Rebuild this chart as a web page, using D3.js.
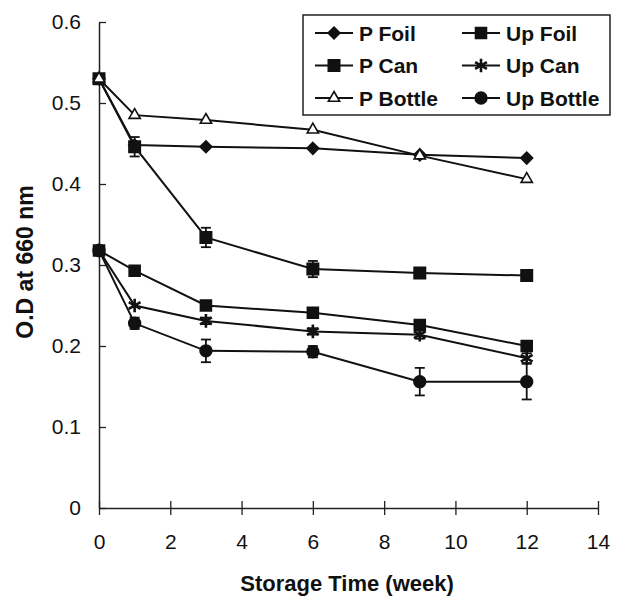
<!DOCTYPE html>
<html>
<head>
<meta charset="utf-8">
<script src="https://cdn.jsdelivr.net/npm/d3@7"></script>
<style>
  html, body { margin: 0; padding: 0; background: #fff; }
  text { font-family: 'Liberation Sans', Arial, sans-serif; fill: #111; }
</style>
</head>
<body>
<svg id="chart"></svg>
<script>
'use strict';

const weeks = [0, 1, 3, 6, 9, 12];
const seriesNames = ['P Foil', 'Up Foil', 'P Can', 'Up Can', 'P Bottle', 'Up Bottle'];
const pFoil    = [0.530, 0.448, 0.446, 0.444, 0.436, 0.432];
const upFoil   = [0.318, 0.293, 0.250, 0.241, 0.226, 0.200];
const pCan     = [0.530, 0.446, 0.334, 0.295, 0.290, 0.287];
const upCan    = [0.318, 0.250, 0.231, 0.218, 0.214, 0.185];
const pBottle  = [0.530, 0.485, 0.479, 0.467, 0.435, 0.406];
const upBottle = [0.318, 0.228, 0.194, 0.193, 0.156, 0.156];
// standard errors (0 = no visible bar)
const pCanErr      = [0, 0.012, 0.012, 0.010, 0, 0];
const upFoilErr    = [0, 0.004, 0.004, 0.004, 0.005, 0.004];
const upCanErr     = [0, 0, 0.004, 0.004, 0.005, 0.006];
const upBottleErr  = [0, 0.007, 0.014, 0.007, 0.017, 0.022];
const noErr        = [0, 0, 0, 0, 0, 0];
const xTicks = [0, 2, 4, 6, 8, 10, 12, 14];
const yTicks = [0, 0.1, 0.2, 0.3, 0.4, 0.5, 0.6];

const W = 618, H = 602;
const margin = { top: 22, left: 99, right: 20, bottom: 94 };
const width = 598 - margin.left;
const height = 508 - margin.top;

const svg = d3.select('#chart')
    .attr('width', W)
    .attr('height', H);

const graph = svg.append('g')
    .attr('transform', `translate(${margin.left}, ${margin.top})`);

const x = d3.scaleLinear().domain([0, 14]).range([0, width]);
const y = d3.scaleLinear().domain([0, 0.6]).range([height, 0]);

// axes
const xAxis = d3.axisBottom(x)
    .tickValues(xTicks)
    .tickSizeInner(7)
    .tickSizeOuter(0)
    .tickPadding(19)
    .tickFormat(d3.format('d'));

const yAxis = d3.axisLeft(y)
    .tickValues(yTicks)
    .tickSizeInner(-7)
    .tickSizeOuter(0)
    .tickPadding(18)
    .tickFormat(d => d === 0 ? '0' : d3.format('.1f')(d));

const gx = graph.append('g')
    .attr('class', 'x-axis')
    .attr('transform', `translate(0, ${height})`)
    .call(xAxis);

gx.selectAll('.tick line').attr('y1', -7);

graph.append('g')
    .attr('class', 'y-axis')
    .call(yAxis);

graph.selectAll('.domain')
    .attr('stroke', '#222')
    .attr('stroke-width', 1.5);

graph.selectAll('.tick line')
    .attr('stroke', '#222')
    .attr('stroke-width', 1.3);

graph.selectAll('.tick text')
    .style('font-size', '21px')
    .attr('fill', '#111');

// axis titles
svg.append('text')
    .attr('x', 347)
    .attr('y', 591)
    .attr('text-anchor', 'middle')
    .style('font-size', '22px')
    .style('font-weight', 'bold')
    .text('Storage Time (week)');

svg.append('text')
    .attr('transform', 'translate(33, 262) rotate(-90)')
    .attr('text-anchor', 'middle')
    .style('font-size', '23px')
    .style('font-weight', 'bold')
    .text('O.D at 660 nm');

// square rotated 45deg, as in the original plot
const rhombus = {
  draw(ctx, size) {
    const r = Math.sqrt(size / 2);
    ctx.moveTo(0, -r);
    ctx.lineTo(r, 0);
    ctx.lineTo(0, r);
    ctx.lineTo(-r, 0);
    ctx.closePath();
  }
};

// series definitions
const symbols = {
  'P Foil':    { type: rhombus, size: 70, fill: '#111' },
  'Up Foil':   { type: d3.symbolSquare, size: 120, fill: '#111' },
  'P Can':     { type: d3.symbolSquare, size: 130, fill: '#111' },
  'Up Can':    { type: d3.symbolAsterisk, size: 130, fill: 'none' },
  'P Bottle':  { type: d3.symbolTriangle, size: 55, fill: '#fff' },
  'Up Bottle': { type: d3.symbolCircle, size: 110, fill: '#111' }
};

const series = [
  { name: 'P Foil', values: pFoil, err: noErr },
  { name: 'Up Foil', values: upFoil, err: upFoilErr },
  { name: 'P Can', values: pCan, err: pCanErr },
  { name: 'Up Can', values: upCan, err: upCanErr },
  { name: 'P Bottle', values: pBottle, err: noErr },
  { name: 'Up Bottle', values: upBottle, err: upBottleErr }
];

const line = d3.line()
    .x(d => x(d.week))
    .y(d => y(d.value));

function drawSymbol(sel, name) {
  const s = symbols[name];
  sel.attr('d', d3.symbol().type(s.type).size(s.size))
      .attr('fill', s.fill)
      .attr('stroke', '#111')
      .attr('stroke-width', name === 'Up Can' ? 2.6 : 1.6);
}

series.forEach(s => {
  const pts = weeks.map((w, i) => ({ week: w, value: s.values[i], err: s.err[i] }));

  graph.append('path')
      .datum(pts)
      .attr('fill', 'none')
      .attr('stroke', '#111')
      .attr('stroke-width', 2)
      .attr('d', line);

  // error bars
  const eb = graph.append('g')
      .selectAll('g')
      .data(pts.filter(d => d.err > 0))
    .enter().append('g')
      .attr('stroke', '#111')
      .attr('stroke-width', 1.8);

  eb.append('line')
      .attr('x1', d => x(d.week)).attr('x2', d => x(d.week))
      .attr('y1', d => y(d.value - d.err)).attr('y2', d => y(d.value + d.err));
  eb.append('line')
      .attr('x1', d => x(d.week) - 5).attr('x2', d => x(d.week) + 5)
      .attr('y1', d => y(d.value - d.err)).attr('y2', d => y(d.value - d.err));
  eb.append('line')
      .attr('x1', d => x(d.week) - 5).attr('x2', d => x(d.week) + 5)
      .attr('y1', d => y(d.value + d.err)).attr('y2', d => y(d.value + d.err));

  graph.append('g')
      .selectAll('path')
      .data(pts)
    .enter().append('path')
      .attr('transform', d => `translate(${x(d.week)}, ${y(d.value)})`)
      .call(drawSymbol, s.name);
});

// legend
const legend = svg.append('g')
    .attr('transform', 'translate(303, 15)');

legend.append('rect')
    .attr('width', 307)
    .attr('height', 100)
    .attr('fill', '#fff')
    .attr('stroke', '#222')
    .attr('stroke-width', 1.5);

const items = legend.selectAll('g.item')
    .data(seriesNames)
  .enter().append('g')
    .attr('class', 'item')
    .attr('transform', (d, i) => `translate(${(i % 2) * 147 + 12}, ${Math.floor(i / 2) * 32.5 + 18})`);

items.append('line')
    .attr('x1', 0).attr('x2', 38)
    .attr('stroke', '#111')
    .attr('stroke-width', 2);

items.append('path')
    .attr('transform', 'translate(19, 0)')
    .each(function(d) { d3.select(this).call(drawSymbol, d); });

items.append('text')
    .attr('x', 44)
    .attr('dy', '0.36em')
    .style('font-size', '21px')
    .style('font-weight', 'bold')
    .text(d => d);
</script>
</body>
</html>
